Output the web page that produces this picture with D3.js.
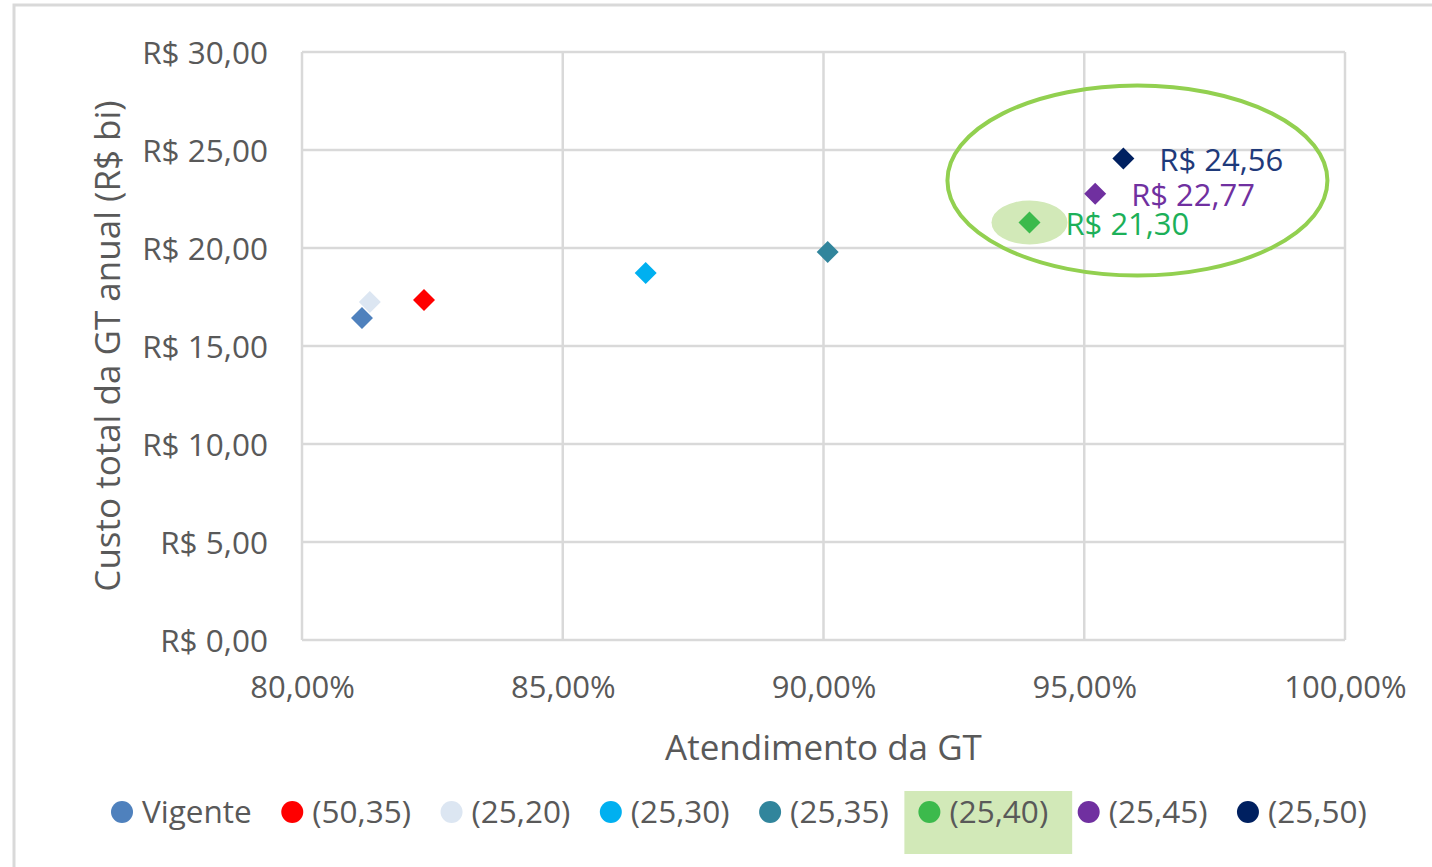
<!DOCTYPE html>
<html><head><meta charset="utf-8">
<script src="https://cdn.jsdelivr.net/npm/d3@7"></script>
<style>
html,body{margin:0;padding:0;background:#fff;}
svg{display:block;font-family:"Open Sans",sans-serif;}
</style></head>
<body>
<svg id="chart" width="1432" height="867"></svg>
<script>
// ---- data ----
const series = ["Vigente","(50,35)","(25,20)","(25,30)","(25,35)","(25,40)","(25,45)","(25,50)"];
const atendimento = [81.15, 82.34, 81.30, 86.59, 90.08, 93.95, 95.21, 95.75];
const custo = [16.43, 17.35, 17.24, 18.72, 19.80, 21.30, 22.77, 24.56];
const colors = ["#4f81bd","#ff0000","#dce6f2","#00b0f0","#31859c","#3cba4c","#7030a0","#002060"];
const dataLabels = [null,null,null,null,null,"R$ 21,30","R$ 22,77","R$ 24,56"];
const labelColors = [null,null,null,null,null,"#1cb059","#7030a0","#1f3a7a"];
const xTicks = [80,85,90,95,100];
const yTicks = [0,5,10,15,20,25,30];
const highlighted = "(25,40)";
const xTitle = "Atendimento da GT";
const yTitle = "Custo total da GT anual (R$ bi)";

const fmtR = d => "R$ " + d.toFixed(2).replace(".", ",");
const fmtP = d => d.toFixed(2).replace(".", ",") + "%";

const svg = d3.select("#chart");
const grey = "#595959", grid = "#d9d9d9";

// outer chart border
svg.append("rect").attr("x",14).attr("y",5).attr("width",1440).attr("height",880)
  .attr("fill","#fff").attr("stroke",grid).attr("stroke-width",3);

const x = d3.scaleLinear().domain([80,100]).range([302,1345]);
const y = d3.scaleLinear().domain([0,30]).range([640,52]);

// gridlines
svg.append("g").selectAll("line").data(xTicks).join("line")
  .attr("x1",d=>x(d)).attr("x2",d=>x(d)).attr("y1",y(30)).attr("y2",y(0))
  .attr("stroke",grid).attr("stroke-width",2.5);
svg.append("g").selectAll("line").data(yTicks).join("line")
  .attr("x1",x(80)).attr("x2",x(100)).attr("y1",d=>y(d)).attr("y2",d=>y(d))
  .attr("stroke",grid).attr("stroke-width",2.5);

// axes (text only)
const xAxis = d3.axisBottom(x).tickValues(xTicks).tickFormat(fmtP).tickSize(0).tickPadding(0);
const gx = svg.append("g").attr("transform",`translate(0,${y(0)})`).call(xAxis);
gx.select(".domain").remove();
gx.selectAll("text").attr("font-size",31).attr("fill",grey).attr("font-family","Open Sans")
  .attr("dy",null).attr("y",58);

const yAxis = d3.axisLeft(y).tickValues(yTicks).tickFormat(fmtR).tickSize(0).tickPadding(0);
const gy = svg.append("g").attr("transform",`translate(${x(80)},0)`).call(yAxis);
gy.select(".domain").remove();
gy.selectAll("text").attr("font-size",31.5).attr("fill",grey).attr("font-family","Open Sans")
  .attr("x",-34).attr("dy","0.35em");

// axis titles
svg.append("text").attr("x",(x(80)+x(100))/2).attr("y",760).attr("text-anchor","middle")
  .attr("font-size",35).attr("fill",grey).text(xTitle);
svg.append("text").attr("transform",`translate(120,${(y(0)+y(30))/2}) rotate(-90)`)
  .attr("text-anchor","middle").attr("font-size",35).attr("fill",grey).text(yTitle);

const data = series.map((s,i)=>({s, x:atendimento[i], y:custo[i], c:colors[i], label:dataLabels[i], lc:labelColors[i]}));

// highlight behind the highlighted point
const hp = data.find(d=>d.s===highlighted);
svg.append("ellipse").attr("cx",x(hp.x)).attr("cy",y(hp.y)).attr("rx",38).attr("ry",22)
  .attr("fill","#d2e9b8");

// markers
const diamond = d3.symbol().type(d3.symbolSquare).size(242);
svg.append("g").selectAll("path").data(data).join("path")
  .attr("d",diamond)
  .attr("transform",d=>`translate(${x(d.x)},${y(d.y)}) rotate(45)`)
  .attr("fill",d=>d.c);

// data labels
svg.append("g").selectAll("text").data(data.filter(d=>d.label)).join("text")
  .attr("x",d=>x(d.x)+36).attr("y",d=>y(d.y)+12)
  .attr("font-size",31).attr("fill",d=>d.lc).text(d=>d.label);

// big ellipse around top points
const top3 = data.filter(d=>d.label);
const ex = d3.extent(top3, d=>x(d.x)), ey = d3.extent(top3, d=>y(d.y));
svg.append("ellipse").attr("cx",(ex[0]+ex[1])/2+61).attr("cy",(ey[0]+ey[1])/2-10)
  .attr("rx",190).attr("ry",95).attr("fill","none").attr("stroke","#92d050").attr("stroke-width",4);

// legend
const lg = svg.append("g");
let lx = 111;
const ly = 812;
data.forEach(d=>{
  const g = lg.append("g");
  const t = g.append("text").attr("x",lx+31).attr("y",ly+11).attr("font-size",31.5).attr("fill",grey).text(d.s);
  const w = t.node().getComputedTextLength();
  if(d.s===highlighted){
    g.insert("rect","text").attr("x",lx-14).attr("y",791).attr("width",31+w+38).attr("height",63).attr("fill","#d2e9b8");
  }
  g.append("circle").attr("cx",lx+11).attr("cy",ly).attr("r",11).attr("fill",d.c);
  lx += 31 + w + 29.5;
});
</script>
</body></html>
